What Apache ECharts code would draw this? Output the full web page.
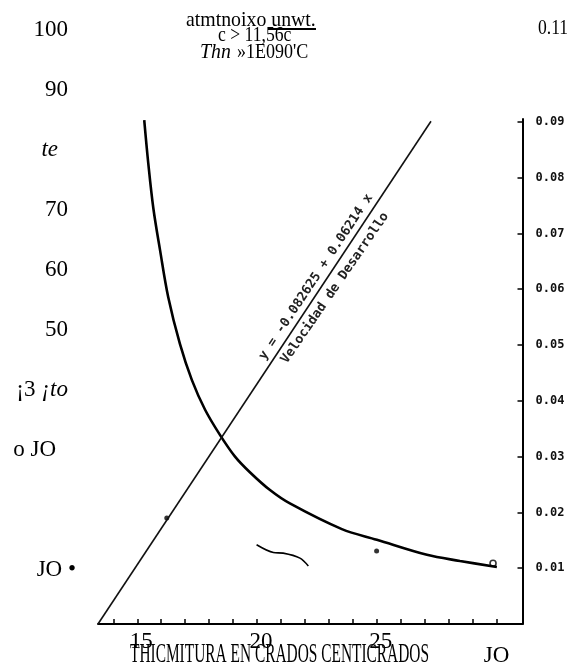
<!DOCTYPE html>
<html>
<head>
<meta charset="utf-8">
<script src="https://cdn.jsdelivr.net/npm/echarts@6/dist/echarts.min.js"></script>
<style>
  html, body { margin: 0; padding: 0; background: #fff; }
  #chart { width: 578px; height: 668px; }
</style>
</head>
<body>
<div id="chart"></div>
<script>
// curva: temperatura -> valor eje derecho
const curveTemp = [15.29, 15.46, 15.67, 15.95, 16.29, 16.78, 17.28, 17.83, 18.45, 19.08, 19.70, 20.54, 21.37, 23.54, 25.00, 27.09, 28.47, 30.01]
const curveVal  = [0.0903, 0.0825, 0.0745, 0.0670, 0.0586, 0.0502, 0.0437, 0.0384, 0.0339, 0.0300, 0.0272, 0.0240, 0.0216, 0.0170, 0.0151, 0.0124, 0.0113, 0.0102]

// recta "Velocidad de Desarrollo"
const lineTemp = [13.36, 27.26]
const lineVal  = [0, 0.0901]

// trazo suelto del escaneo
const strokeTemp = [19.98, 20.68, 21.09, 21.79, 22.14]
const strokeVal  = [0.0142, 0.0128, 0.0127, 0.0118, 0.0104]

// puntos
const dotTemp = [24.99, 16.23]
const dotVal  = [0.0131, 0.0190]
const endTemp = [29.85]
const endVal  = [0.0109]

// ejes
const xTicks = [14, 15, 16, 17, 18, 19, 20, 21, 22, 23, 24, 25, 26, 27, 28, 29, 30]
const xLabelValues = [15, 20, 25, 30]
const xLabelText = ['15', '20', '25', 'JO']
const rightTicks = [0.01, 0.02, 0.03, 0.04, 0.05, 0.06, 0.07, 0.08, 0.09]
const leftValues = [100, 90, 80, 70, 60, 50, 40, 30, 10]
const leftLabels = ['100', '90', 'te', '70', '60', '50', '¡3 ¡to', 'o JO', 'JO •']

const zip = (a, b) => a.map((v, i) => [v, b[i]])
const serif = 'Liberation Serif, Times New Roman, serif'
const mono = 'DejaVu Sans Mono, monospace'

const mChart = echarts.init(document.getElementById('chart'))

const option = {
    animation: false,
    grid: [
        {left: 98, right: 55.5, top: 119, bottom: 44},
        {left: 98, right: 55.5, top: 30, bottom: 38}
    ],
    xAxis: [{
        type: 'value',
        min: 13.36,
        max: 31.08,
        axisLine: {lineStyle: {color: '#000', width: 2}},
        axisTick: {inside: true, length: 5, customValues: xTicks, lineStyle: {color: '#000', width: 1.5}},
        axisLabel: {
            customValues: xLabelValues,
            fontFamily: serif,
            fontSize: 23,
            color: '#000',
            margin: 6,
            formatter: v => {
                const t = xLabelText[xLabelValues.indexOf(v)]
                return v === 30 ? '{jo|' + t + '}' : '{n|' + t + '}'
            },
            rich: {
                n: {fontFamily: serif, fontSize: 23, color: '#000', padding: [0, 0, 0, 8]},
                jo: {fontFamily: serif, fontSize: 23, color: '#000', padding: [14, 0, 0, 0]}
            }
        },
        splitLine: {show: false}
    }, {
        gridIndex: 1,
        type: 'value',
        show: false
    }],
    yAxis: [{
        type: 'value',
        position: 'right',
        min: 0,
        max: 0.0905,
        axisLine: {show: true, lineStyle: {color: '#000', width: 2}},
        axisTick: {show: true, inside: true, length: 5, customValues: rightTicks, lineStyle: {color: '#000', width: 1.5}},
        axisLabel: {
            customValues: rightTicks,
            fontFamily: mono,
            fontWeight: 'bold',
            fontSize: 12,
            color: '#111',
            margin: 13,
            formatter: v => v.toFixed(2)
        },
        splitLine: {show: false}
    }, {
        gridIndex: 1,
        type: 'value',
        position: 'left',
        min: 0,
        max: 100,
        axisLine: {show: false},
        axisTick: {show: false},
        splitLine: {show: false},
        axisLabel: {
            customValues: leftValues,
            margin: 22,
            fontFamily: serif,
            fontSize: 23,
            color: '#000',
            formatter: v => {
                const t = leftLabels[leftValues.indexOf(v)]
                if (t === 'te') return '{it|' + t + '}{p18|}'
                if (t === '¡3 ¡to') return '¡3 {it|¡to}{p8|}'
                if (t === 'o JO') return t + '{p20|}'
                if (t === 'JO •') return t
                return t + '{p8|}'
            },
            rich: {
                it: {fontFamily: serif, fontStyle: 'italic', fontSize: 23, color: '#000'},
                p8: {width: 8},
                p18: {width: 18},
                p20: {width: 20}
            }
        }
    }],
    graphic: [
        {type: 'text', x: 186, y: 20, scaleX: 0.9, style: {text: 'atmtnoixo unwt.', font: '22px ' + serif, fill: '#000', textVerticalAlign: 'middle'}},
        {type: 'line', shape: {x1: 268, y1: 29, x2: 316, y2: 29}, style: {stroke: '#000', lineWidth: 2}},
        {type: 'text', x: 218, y: 35, scaleX: 0.8, style: {text: 'c > 11,56c', font: '22px ' + serif, fill: '#000', textVerticalAlign: 'middle'}},
        {type: 'text', x: 200, y: 52, scaleX: 0.9, style: {text: 'Thn', font: 'italic 22px ' + serif, fill: '#000', textVerticalAlign: 'middle'}},
        {type: 'text', x: 237, y: 52, scaleX: 0.82, style: {text: '»1E090\'C', font: '22px ' + serif, fill: '#000', textVerticalAlign: 'middle'}},
        {type: 'text', x: 538, y: 28, scaleX: 0.8, style: {text: '0.11', font: '22px ' + serif, fill: '#000', textVerticalAlign: 'middle'}},
        {type: 'text', x: 130, y: 655, scaleX: 0.55, style: {text: 'THICMITURA EN CRADOS CENTICRADOS', font: '28px ' + serif, fill: '#000', textVerticalAlign: 'middle'}},
        {type: 'text', x: 316, y: 277, rotation: 56.5 * Math.PI / 180, style: {text: 'y = -0.082625 + 0.06214 x', font: 'bold 13px ' + mono, fill: '#222', textAlign: 'center', textVerticalAlign: 'middle'}},
        {type: 'text', x: 335, y: 288, rotation: 55.5 * Math.PI / 180, style: {text: 'Velocidad de Desarrollo', font: 'bold 13px ' + mono, fill: '#222', textAlign: 'center', textVerticalAlign: 'middle'}}
    ],
    series: [{
        type: 'line',
        data: zip(curveTemp, curveVal),
        smooth: 0.35,
        symbol: 'none',
        lineStyle: {color: '#000', width: 2.6}
    }, {
        type: 'line',
        data: zip(lineTemp, lineVal),
        symbol: 'none',
        lineStyle: {color: '#111', width: 1.6}
    }, {
        type: 'line',
        data: zip(strokeTemp, strokeVal),
        smooth: 0.3,
        symbol: 'none',
        lineStyle: {color: '#000', width: 1.6}
    }, {
        type: 'scatter',
        data: zip(dotTemp, dotVal),
        symbolSize: 5,
        itemStyle: {color: '#000'}
    }, {
        type: 'scatter',
        data: zip(endTemp, endVal),
        symbolSize: 6,
        itemStyle: {color: '#fff', borderColor: '#000', borderWidth: 1.6}
    }]
}

mChart.setOption(option)
window.addEventListener('resize', function() {
    mChart.resize()
})
</script>
</body>
</html>
